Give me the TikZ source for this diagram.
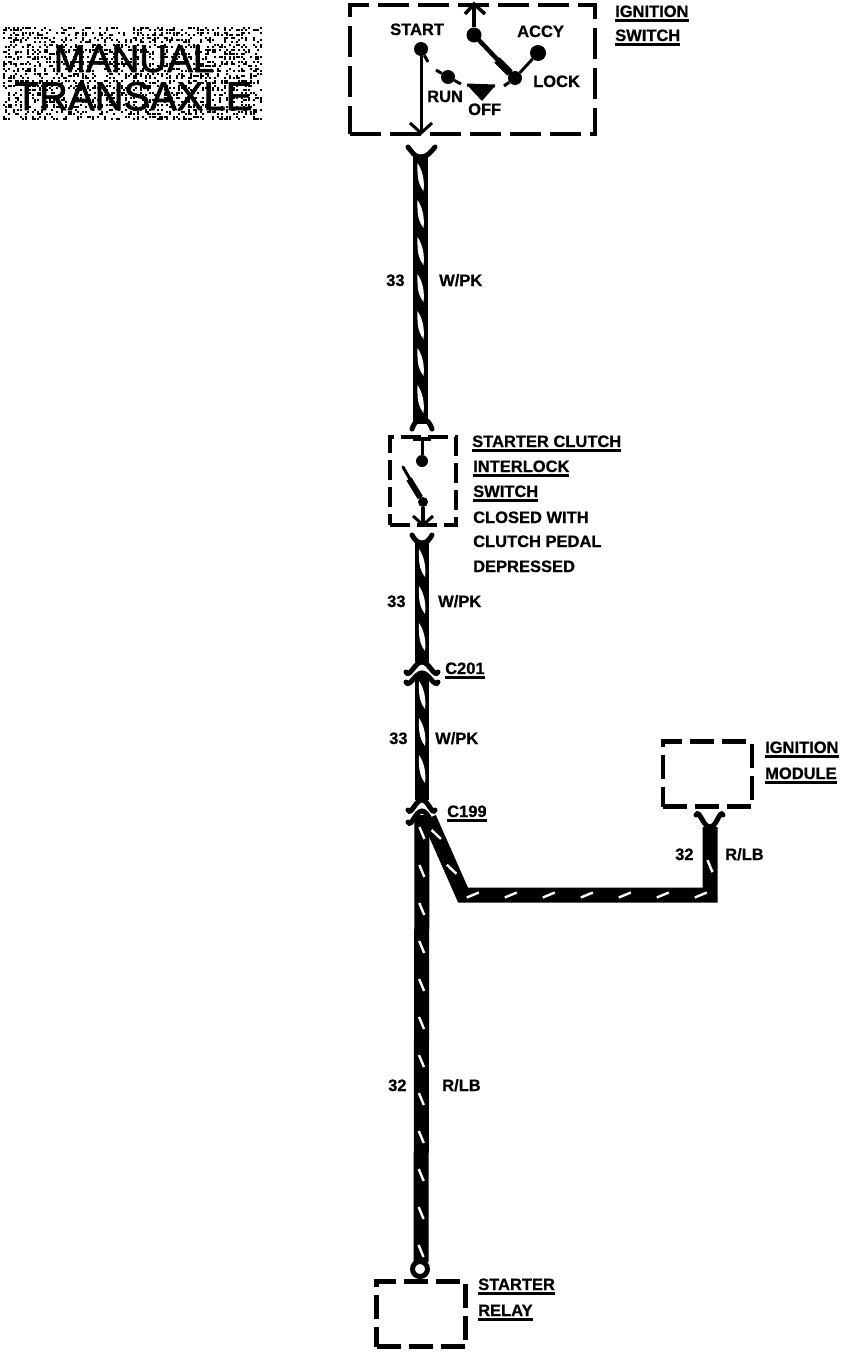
\documentclass[tikz,border=0pt]{standalone}
\usepackage{fontspec}
\setmainfont{Liberation Sans}[BoldFeatures={FakeBold=0.7}]
\newfontfamily\tagfont{Liberation Sans}[FakeBold=1.6]
\usetikzlibrary{decorations.markings}
\newcommand{\ulbl}[1]{\setbox0=\hbox{#1}\leavevmode\rlap{\rule[-5pt]{\wd0}{2.8pt}}\box0}
\tikzset{
	lbl/.style={anchor=base west,inner sep=0,font=\fontsize{16.5}{17}\selectfont\bfseries},
	dbox/.style={draw,line width=4.8pt,inner sep=0,outer sep=0,dash pattern=on 24pt off 8pt},
	fork/.style={line width=5pt,line cap=round},
	dot/.style={circle,fill=black,inner sep=0,minimum size=#1},
	thin wire/.style={line width=3pt},
	blade/.style={line width=4.5pt,line cap=round},
	wirea/.style={line width=14.5pt,postaction={decorate},
		decoration={markings,mark=between positions 20pt and -10pt step 37pt with {\fill[white] (-14pt,-3pt) .. controls (-5pt,3pt) and (5pt,4pt) .. (14pt,3pt) .. controls (5pt,-4pt) and (-5pt,-3pt) .. cycle;}}},
	wireb/.style={line width=15pt,postaction={decorate},
		decoration={markings,mark=between positions 18pt and -4pt step 38pt with {\draw[white,line width=2.4pt] (-6pt,-2.5pt)--(6pt,2.5pt);}}},
}
\begin{document}
\begin{tikzpicture}[x=1pt,y=-1pt]
\useasboundingbox (0,0) rectangle (864,1352);
% manual transaxle tag
\pgfmathsetseed{7}
\foreach \i in {0,...,107}{
	\foreach \j in {0,...,38}{
		\pgfmathparse{rnd<0.36 ? 1 : 0}
		\ifnum\pgfmathresult=1 \fill (3+2.4*\i,27+2.4*\j) rectangle +(1.9,1.9); \fi
	}
}
\node(t1)[inner sep=0,anchor=base,font=\fontsize{38.5}{40}\selectfont\tagfont] at (134,72) {MANUAL};
\node(t2)[inner sep=0,anchor=base,font=\fontsize{40}{40}\selectfont\tagfont] at (133.5,110) {TRANSAXLE};
% boxes
\node(ign)[dbox,dash pattern=on 31pt off 9pt,minimum width=245pt,minimum height=129pt] at (472.5,69.5) {};
\node(clu)[dbox,dash pattern=on 20pt off 7pt,minimum width=66pt,minimum height=88pt] at (423,481) {};
\node(mod)[dbox,minimum width=89pt,minimum height=65pt] at (707.5,774) {};
\node(rel)[dbox,minimum width=89pt,minimum height=65pt] at (421,1314) {};
% ignition switch
\node(st)[dot=14pt] at (421,49) {};
\node(ro)[dot=15pt] at (474,35) {};
\node(ac)[dot=16pt] at (538,53) {};
\node(lo)[dot=14pt] at (515,78) {};
\node(ru)[dot=14pt] at (448,77) {};
\node(of)[dot=10pt] at (480,90) {};
\coordinate(sb) at (421,133);
\coordinate(sl) at (410,123);
\coordinate(sr) at (432,123);
\coordinate(st2) at (428,62);
\coordinate(ut) at (474,4);
\coordinate(ul) at (465,14);
\coordinate(ur) at (485,14);
\draw[thin wire] (st)--(sb);
\draw[thin wire] (st)--(st2);
\draw[thin wire] (sl)--(sb)--(sr);
\draw[line width=3.5pt] (ro)--(ut);
\draw[line width=3.5pt] (ul)--(ut)--(ur);
\draw[blade] (ro)--(lo);
\coordinate(bl) at (497,60);
\draw[line width=7.5pt] (bl)--(lo);
\draw[thin wire] (lo)--(ac);
\coordinate(lt) at (504,86);
\draw[thin wire] (lo)--(lt);
\coordinate(r1) at (436,70);
\coordinate(r2) at (461,84);
\coordinate(o1) at (467,85);
\coordinate(o2) at (495,86);
\coordinate(o3) at (482,101);
\draw[thin wire] (r1)--(ru)--(r2);
\draw[thin wire] (o1)--(o2);
\fill (o1)--(o2)--(o3)--cycle;
\node[lbl] (l1) at (390,35) {START};
\node[lbl] (l2) at (517,37) {ACCY};
\node[lbl] (l3) at (533,87) {LOCK};
\node[lbl] (l4) at (427,102) {RUN};
\node[lbl] (l5) at (468,115) {OFF};
\node[lbl] (l6) at (615,17) {\ulbl{IGNITION}};
\node[lbl] (l7) at (615,41) {\ulbl{SWITCH}};
% wire from switch to clutch switch
\coordinate(a1) at (420.5,157);
\coordinate(a2) at (420.5,424);
\draw[wirea] (a1)--(a2);
\coordinate(f1) at (408,147);
\coordinate(f2) at (435,147);
\draw[fork] (f1) to[out=-50,in=180] (a1) to[out=0,in=-130] (f2);
\coordinate(f3) at (412,429);
\coordinate(f4) at (432,429);
\coordinate(f5) at (422,419);
\draw[fork] (f3) to[out=70,in=180] (f5) to[out=0,in=110] (f4);
\node[lbl] (n1) at (386,286) {33};
\node[lbl] (c1) at (439,286) {W/PK};
% clutch switch
\node(cu)[dot=12pt] at (422,461) {};
\node(cd)[dot=10pt] at (423,502) {};
\coordinate(b1) at (413,439);
\coordinate(b2) at (431,439);
\coordinate(b3) at (422,437);
\coordinate(b4) at (403,467);
\coordinate(b8) at (409,479);
\coordinate(b5) at (423,525);
\coordinate(b6) at (413,516);
\coordinate(b7) at (433,516);
\draw[line width=3.5pt] (b1)--(b2);
\draw[thin wire] (b3)--(cu);
\draw[line width=3pt,line cap=round] (b4)--(cd);
\draw[line width=6pt] (b8)--(cd);
\draw[line width=3.5pt] (cd)--(b5);
\draw[thin wire] (b6)--(b5)--(b7);
\node[lbl] (l8) at (472,447) {\ulbl{STARTER CLUTCH}};
\node[lbl] (l9) at (473,472) {\ulbl{INTERLOCK}};
\node[lbl] (l10) at (473,497) {\ulbl{SWITCH}};
\node[lbl] (l11) at (473,523) {CLOSED WITH};
\node[lbl] (l12) at (473,547) {CLUTCH PEDAL};
\node[lbl] (l13) at (473,572) {DEPRESSED};
% wire to C201
\coordinate(d1) at (422,543);
\coordinate(d2) at (422,662);
\draw[wirea] (d1)--(d2);
\coordinate(g1) at (412,535);
\coordinate(g2) at (432,535);
\draw[fork] (g1) to[out=-60,in=180] (d1) to[out=0,in=-120] (g2);
\node[lbl] (n2) at (387,607) {33};
\node[lbl] (c2) at (438,607) {W/PK};
% C201
\coordinate(h1) at (406,672);
\coordinate(h2) at (422,662);
\coordinate(h3) at (438,672);
\coordinate(h4) at (406,682);
\coordinate(h5) at (422,673);
\coordinate(h6) at (438,682);
\draw[fork] (h1) to[out=-60,in=180] (h2) to[out=0,in=-120] (h3);
\draw[fork] (h4) to[out=-60,in=180] (h5) to[out=0,in=-120] (h6);
\node[lbl] (l14) at (445,674) {\ulbl{C201}};
% wire to C199
\coordinate(e1) at (422,675);
\coordinate(e2) at (422,800);
\draw[wirea] (e1)--(e2);
\node[lbl] (n3) at (389,744) {33};
\node[lbl] (c3) at (435,744) {W/PK};
% C199
\coordinate(k1) at (408,810);
\coordinate(k2) at (422,800);
\coordinate(k3) at (435,810);
\coordinate(k4) at (408,822);
\coordinate(k5) at (422,811);
\coordinate(k6) at (435,822);
\draw[fork] (k1) to[out=-60,in=180] (k2) to[out=0,in=-120] (k3);
\draw[fork] (k4) to[out=-60,in=180] (k5) to[out=0,in=-120] (k6);
\node[lbl] (l15) at (447,817) {\ulbl{C199}};
% wire to starter relay
\node(ring)[circle,draw,line width=5pt,inner sep=0,minimum size=15pt] at (420,1269) {};
\coordinate(m1) at (422,815);
\coordinate(m2) at (421,1262);
\draw[wireb] (m1)--(m2);
\node[lbl] (n4) at (388,1091) {32};
\node[lbl] (c4) at (442,1091) {R/LB};
\node[lbl] (l16) at (478,1290) {\ulbl{STARTER}};
\node[lbl] (l17) at (478,1316) {\ulbl{RELAY}};
% branch to ignition module
\coordinate(p1) at (429,818);
\coordinate(p2) at (463,895);
\coordinate(p3) at (710,895);
\coordinate(p4) at (710,827);
\draw[wireb] (p1)--(p2)--(p3)--(p4);
\coordinate(q1) at (696,815);
\coordinate(q2) at (723,815);
\draw[fork] (q1) to[out=60,in=180] (p4) to[out=0,in=120] (q2);
\node[lbl] (n5) at (675,860) {32};
\node[lbl] (c5) at (725,860) {R/LB};
\node[lbl] (l18) at (765,753) {\ulbl{IGNITION}};
\node[lbl] (l19) at (765,779) {\ulbl{MODULE}};
\end{tikzpicture}
\end{document}
